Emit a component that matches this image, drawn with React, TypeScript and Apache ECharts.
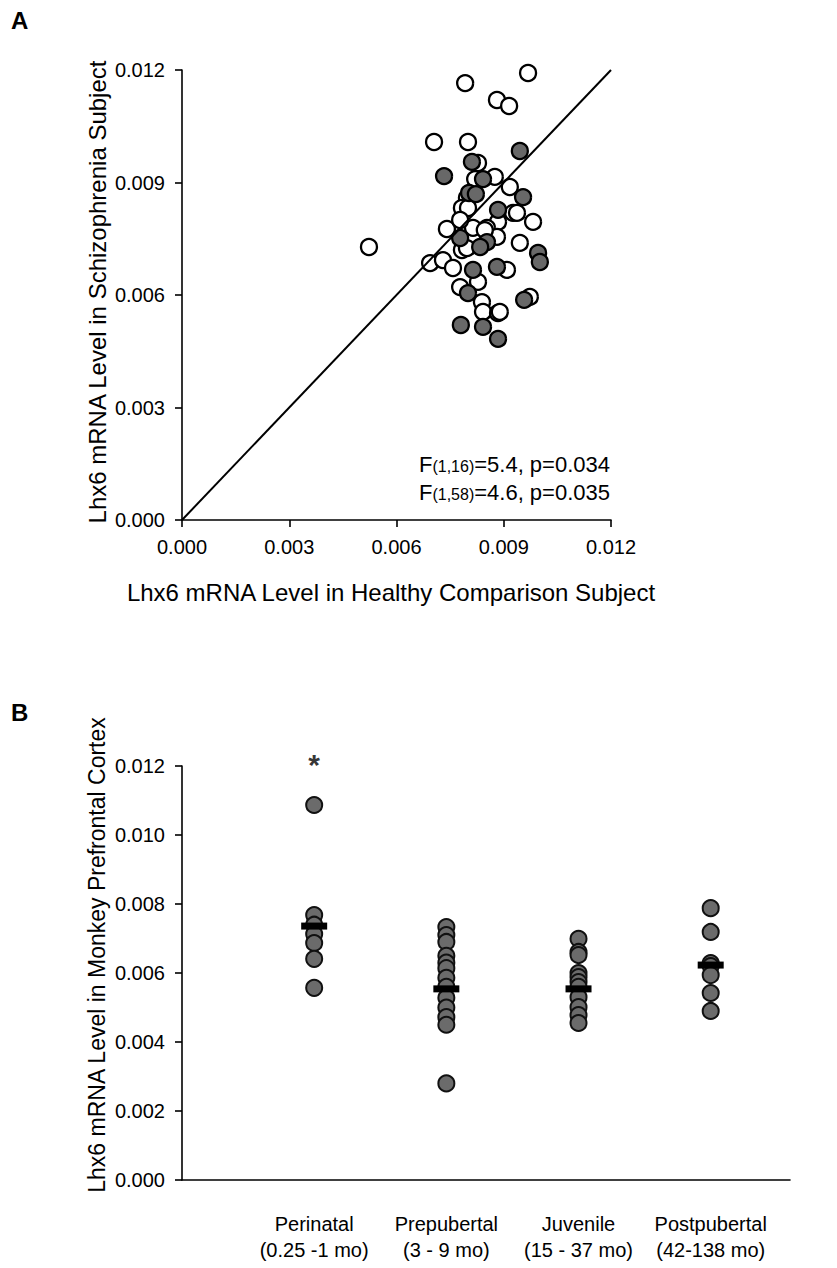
import React, { useEffect, useRef } from "react";
import * as echarts from "echarts";

const FONT = '"Liberation Sans", Arial, Helvetica, sans-serif';

// ---------- Panel A data ----------
const identityLine = [0, 0.012];
const openHealthy = [0.00523, 0.00792, 0.00968, 0.00881, 0.00915, 0.00705, 0.008, 0.00828, 0.0082, 0.00875, 0.00917, 0.00797, 0.00783, 0.008, 0.00926, 0.00982, 0.00884, 0.00853, 0.00814, 0.00741, 0.00778, 0.00881, 0.00945, 0.00694, 0.0073, 0.00758, 0.00783, 0.00797, 0.00909, 0.00778, 0.00828, 0.00839, 0.00973, 0.00842, 0.00884, 0.00889, 0.00937, 0.00847];
const openSchizo = [0.00728, 0.01165, 0.01192, 0.0112, 0.01104, 0.01008, 0.01008, 0.00952, 0.00909, 0.00915, 0.00888, 0.00859, 0.00832, 0.00832, 0.00819, 0.00795, 0.00795, 0.00779, 0.00779, 0.00776, 0.008, 0.00755, 0.00739, 0.00685, 0.00693, 0.00672, 0.0072, 0.00725, 0.00667, 0.00621, 0.00635, 0.00581, 0.00595, 0.00555, 0.00552, 0.00555, 0.00819, 0.00773];
const filledHealthy = [0.00733, 0.00945, 0.00811, 0.00842, 0.00803, 0.00822, 0.00954, 0.00884, 0.00778, 0.00853, 0.00834, 0.00996, 0.01001, 0.00814, 0.00881, 0.008, 0.00957, 0.0078, 0.00842, 0.00884];
const filledSchizo = [0.00917, 0.00984, 0.00955, 0.00909, 0.00872, 0.00869, 0.00861, 0.00827, 0.00752, 0.00741, 0.00728, 0.00712, 0.00688, 0.00667, 0.00675, 0.00605, 0.00587, 0.0052, 0.00515, 0.00483];
const statSubs = ["(1,16)", "(1,58)"];
const statRest = ["=5.4, p=0.034", "=4.6, p=0.035"];

// ---------- Panel B data ----------
const ageGroups = ["Perinatal", "Prepubertal", "Juvenile", "Postpubertal"];
const ageRanges = ["(0.25 -1 mo)", "(3 - 9 mo)", "(15 - 37 mo)", "(42-138 mo)"];
const perinatal = [0.01087, 0.00768, 0.0074, 0.00713, 0.00687, 0.00641, 0.00557];
const prepubertal = [0.00733, 0.0071, 0.0069, 0.0065, 0.0063, 0.00614, 0.00586, 0.0056, 0.00528, 0.005, 0.00472, 0.0045, 0.0028];
const juvenile = [0.00699, 0.00661, 0.00652, 0.006, 0.00588, 0.00574, 0.0056, 0.0053, 0.00501, 0.00478, 0.00455];
const postpubertal = [0.00788, 0.00719, 0.00629, 0.0062, 0.00594, 0.00542, 0.0049];
const groupMeans = [0.00736, 0.00554, 0.00554, 0.00623];
const significance = [{ group: 1, value: 0.01205, mark: "*" }];

const zip = (xs: number[], ys: number[]) => xs.map((x, i) => [x, ys[i]]);

export default function App() {
  const ref = useRef<HTMLDivElement>(null);
  useEffect(() => {
    document.body.style.margin = "0";
    if (!ref.current) return;
    const chart = echarts.init(ref.current, null, { renderer: "svg" });
    const groups = [perinatal, prepubertal, juvenile, postpubertal];
    const tickLabel = { color: "#000", fontSize: 20, fontFamily: FONT };
    const axisLine = { show: true, onZero: false, lineStyle: { color: "#000", width: 1.6 } };
    const axisTick = { show: true, inside: false, length: 7, lineStyle: { color: "#000", width: 1.6 } };
    const richBase = { fontSize: 22, fontFamily: FONT, fill: "#000" };
    chart.setOption({
      animation: false,
      backgroundColor: "#fff",
      grid: [
        { left: 182, top: 70, width: 429, height: 450 },
        { left: 182, top: 766, width: 608, height: 414 },
      ],
      xAxis: [
        {
          gridIndex: 0, type: "value", min: 0, max: 0.012, interval: 0.003,
          axisLine, axisTick, splitLine: { show: false },
          axisLabel: { ...tickLabel, margin: 17, formatter: (v: number) => v.toFixed(3) },
        },
        {
          gridIndex: 1, type: "value", min: 0, max: 4.6, interval: 1,
          axisLine, axisTick: { show: false }, splitLine: { show: false },
          axisLabel: {
            ...tickLabel, margin: 31, lineHeight: 26,
            formatter: (v: number) => {
              const i = Math.round(v);
              if (Math.abs(v - i) > 1e-6 || i < 1 || i > 4) return "";
              return ageGroups[i - 1] + "\n" + ageRanges[i - 1];
            },
          },
        },
      ],
      yAxis: [
        {
          gridIndex: 0, type: "value", min: 0, max: 0.012, interval: 0.003,
          axisLine, axisTick, splitLine: { show: false },
          axisLabel: { ...tickLabel, margin: 17, formatter: (v: number) => v.toFixed(3) },
        },
        {
          gridIndex: 1, type: "value", min: 0, max: 0.012, interval: 0.002,
          axisLine, axisTick, splitLine: { show: false },
          axisLabel: { ...tickLabel, margin: 17, formatter: (v: number) => v.toFixed(3) },
        },
      ],
      series: [
        {
          type: "scatter", xAxisIndex: 0, yAxisIndex: 0, z: 2,
          data: zip(openHealthy, openSchizo), symbol: "circle", symbolSize: 16,
          itemStyle: { color: "#fff", borderColor: "#000", borderWidth: 2.3, opacity: 1 },
        },
        {
          type: "scatter", xAxisIndex: 0, yAxisIndex: 0, z: 3,
          data: zip(filledHealthy, filledSchizo), symbol: "circle", symbolSize: 16,
          itemStyle: { color: "#686868", borderColor: "#000", borderWidth: 2.3, opacity: 1 },
        },
        {
          type: "line", xAxisIndex: 0, yAxisIndex: 0, z: 4,
          data: [[identityLine[0], identityLine[0]], [identityLine[1], identityLine[1]]],
          showSymbol: false, symbol: "none",
          lineStyle: { color: "#000", width: 2 },
        },
        ...groups.map((g, gi) => ({
          type: "scatter", xAxisIndex: 1, yAxisIndex: 1, z: 2,
          data: g.map((v) => [gi + 1, v]), symbol: "circle", symbolSize: 16,
          itemStyle: { color: "#6b6b6b", borderColor: "#111", borderWidth: 2, opacity: 1 },
        })),
        {
          type: "scatter", xAxisIndex: 1, yAxisIndex: 1, z: 5,
          data: groupMeans.map((m, i) => [i + 1, m]), symbol: "rect", symbolSize: [26, 7],
          itemStyle: { color: "#000", opacity: 1 },
        },
        {
          type: "scatter", xAxisIndex: 1, yAxisIndex: 1, z: 6, clip: false,
          data: significance.map((s) => [s.group, s.value]), symbolSize: 1,
          itemStyle: { color: "rgba(0,0,0,0)" },
          label: {
            show: true, position: "inside", formatter: () => significance[0].mark,
            fontSize: 30, fontWeight: "bold", color: "#000", fontFamily: FONT,
            textBorderWidth: 0, textShadowBlur: 0,
          },
        },
      ],
      graphic: [
        { type: "text", left: 11, top: 8, style: { text: "A", font: `bold 24px ${FONT}`, fill: "#000" } },
        { type: "text", left: 11, top: 700, style: { text: "B", font: `bold 24px ${FONT}`, fill: "#000" } },
        {
          type: "text", x: 97, y: 292, rotation: Math.PI / 2,
          style: { text: "Lhx6 mRNA Level in Schizophrenia Subject", align: "center", verticalAlign: "middle", font: `24px ${FONT}`, fill: "#000" },
        },
        {
          type: "text", x: 391, y: 592,
          style: { text: "Lhx6 mRNA Level in Healthy Comparison Subject", align: "center", verticalAlign: "middle", font: `24px ${FONT}`, fill: "#000" },
        },
        {
          type: "text", x: 97, y: 955, rotation: Math.PI / 2,
          style: { text: "Lhx6 mRNA Level in Monkey Prefrontal Cortex", align: "center", verticalAlign: "middle", font: `23px ${FONT}`, fill: "#000" },
        },
        ...statSubs.map((s, i) => ({
          type: "text", x: 610, y: 464 + i * 28,
          style: {
            text: `{a|F}{s|${s}}{a|${statRest[i]}}`, align: "right", verticalAlign: "middle",
            rich: { a: { ...richBase }, s: { ...richBase, fontSize: 16, padding: [5, 0, 0, 0] } },
          },
        })),
      ],
    });
    return () => chart.dispose();
  }, []);
  return <div ref={ref} style={{ width: 837, height: 1268 }} />;
}
